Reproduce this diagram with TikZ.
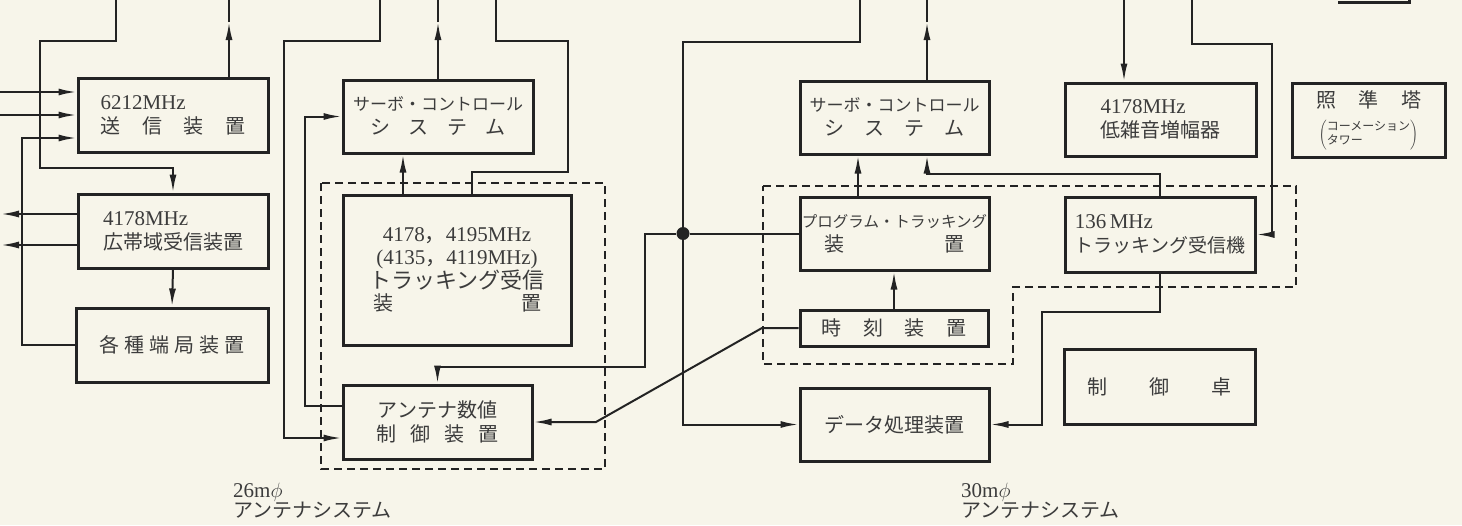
\documentclass[tikz,border=0pt]{standalone}
\usepackage{fontspec}
\setmainfont{Liberation Serif}
\newfontfamily\jp{Noto Sans CJK JP}
\usetikzlibrary{arrows.meta}
\definecolor{bgc}{RGB}{247,245,234}
\definecolor{linec}{RGB}{35,35,35}
\definecolor{txtc}{RGB}{60,60,60}
\newcommand\fs[1]{\fontsize{#1}{#1}\selectfont}
\newcommand\spr[2]{\makebox[#1][s]{#2}}
\newcommand\lat[1]{{\rmfamily\fontsize{21}{24}\selectfont #1}}
\begin{document}
\begin{tikzpicture}[x=1pt,y=-1pt,
  box/.style={draw=linec, line width=3pt, inner sep=0pt, text=txtc, align=center, font=\jp\fontsize{20}{24}\selectfont},
  conn/.style={draw=linec, line width=2pt},
  arr/.style={conn, -{Latex[length=18pt,width=7pt]}},
  dashbox/.style={draw=linec, line width=1.7pt, dash pattern=on 8pt off 5pt},
  lbl/.style={text=txtc, align=left, inner sep=0pt, anchor=west},
  junction/.style={circle, fill=linec, inner sep=0pt, minimum size=13pt}]
\fill[bgc] (0,0) rectangle (1462,525);
\useasboundingbox (0,0) rectangle (1462,525);

% free ends
\coordinate (t1) at (116,0);
\coordinate (t2) at (229,0);  \coordinate (a2) at (229,22);
\coordinate (t3) at (380,0);
\coordinate (t4) at (438,0);  \coordinate (a4) at (438,22);
\coordinate (t5) at (496,0);
\coordinate (t6) at (860,0);
\coordinate (t7) at (927,0);  \coordinate (a7) at (927,22);
\coordinate (t8) at (1124,0);
\coordinate (t9) at (1192,0);
\coordinate (l1) at (0,92);
\coordinate (l2) at (0,115);
\coordinate (l3) at (1,214);
\coordinate (l4) at (1,245);

% dashed groups
\draw[dashbox] (321,183) rectangle (605,469);
\draw[dashbox] (763,186) -- (1296,186) -- (1296,287) -- (1013,287) -- (1013,364) -- (763,364) -- cycle;

% boxes, left column
\node[box, minimum width=190pt, minimum height=74pt, align=left] (tx) at (173,115)
  {\lat{6212MHz}\\\spr{145pt}{送\hfill 信\hfill 装\hfill 置}};
\node[box, minimum width=190pt, minimum height=74pt, align=left] (rx) at (173,231)
  {\lat{4178MHz}\\広帯域受信装置};
\node[box, minimum width=192pt, minimum height=74pt] (term) at (172,345)
  {\spr{145pt}{各\hfill 種\hfill 端\hfill 局\hfill 装\hfill 置}};

% 26m antenna
\node[box, minimum width=190pt, minimum height=73pt] (servo1) at (438,116.5)
  {{\fs{17}サーボ・コントロール}\\\spr{135pt}{シ\hfill ス\hfill テ\hfill ム}};
\node[box, minimum width=228pt, minimum height=150pt, font=\jp\fontsize{20}{22.5}\selectfont] (trk) at (457,270)
  {\lat{4178{\jp ，}4195MHz}\\\lat{(4135{\jp ，}4119MHz)}\\{\fs{22}トラッキング受信}\\\spr{168pt}{装\hfill 置}};
\node[box, minimum width=189pt, minimum height=74pt] (ant) at (437.5,422)
  {アンテナ数値\\\spr{122pt}{制\hfill 御\hfill 装\hfill 置}};

% 30m antenna
\node[box, minimum width=189pt, minimum height=73pt] (servo2) at (894.5,117.5)
  {{\fs{17}サーボ・コントロール}\\\spr{140pt}{シ\hfill ス\hfill テ\hfill ム}};
\node[box, minimum width=189pt, minimum height=73pt] (prog) at (894.5,233.5)
  {{\fs{15.5}プログラム・トラッキング}\\\spr{140pt}{装\hfill 置}};
\node[box, minimum width=188pt, minimum height=36pt] (clock) at (894,328)
  {\spr{145pt}{時\hfill 刻\hfill 装\hfill 置}};
\node[box, minimum width=189pt, minimum height=73pt] (data) at (894.5,424.5)
  {データ処理装置};
\node[box, minimum width=191pt, minimum height=73pt, align=left] (lna) at (1160.5,119.5)
  {\lat{4178MHz}\\低雑音増幅器};
\node[box, minimum width=190pt, minimum height=75pt, align=left] (trkrx) at (1160,234.5)
  {\lat{136\,MHz}\\{\fs{19}トラッキング受信機}};
\node[box, minimum width=153pt, minimum height=74pt] (col) at (1368.5,120)
  {\spr{105pt}{照\hfill 準\hfill 塔}\\[9pt]
   $\left(\vcenter{\hbox{\jp\fontsize{12}{13}\selectfont\begin{tabular}{@{}l@{}}コーメーション\\タワー\end{tabular}}}\right)$};
\node[box, minimum width=191pt, minimum height=75pt] (ctl) at (1159.5,386.5)
  {\spr{144pt}{制\hfill 御\hfill 卓}};

\node[junction] (dot) at (683,233.5) {};

% fragment at top right
\draw[linec, line width=3pt] (1338,2) -- (1409,2) -- (1409,-3);

% connectors, left
\draw[arr] (t1) |- (40,41) |- (173,168) -- (rx.north);
\draw[arr] (tx.north -| a2) -- (a2);
\draw[conn] (a2) -- (t2);
\draw[arr] (l1) -- ([yshift=23pt]tx.west);
\draw[arr] (l2) -- (tx.west);
\draw[arr] (term.west) -| (22,138) -- ([yshift=-23pt]tx.west);
\draw[arr] ([yshift=17pt]rx.west) -- (l3);
\draw[arr] ([yshift=-14pt]rx.west) -- (l4);
\draw[arr] (rx.south) -- (term.north);

% connectors, 26m
\draw[arr] (t3) |- (284,41) |- ([yshift=-16pt]ant.west);
\draw[arr] ([yshift=16pt]ant.west) -| (305,116.5) -- (servo1.west);
\draw[arr] (servo1.north) -- (a4);
\draw[conn] (a4) -- (t4);
\draw[conn] (t5) |- (568,41) |- (472,172) -- ([xshift=15pt]trk.north);
\draw[arr] ([xshift=-54pt]trk.north) -- ([xshift=-54pt]trk.north |- servo1.south);

% connectors, 30m
\draw[conn] (dot) -- (prog.west);
\draw[conn] (dot) |- (860,42) -- (t6);
\draw[arr] (dot) |- (data.west);
\draw[arr] (dot) -- (645,233.5) |- (437.5,367) -- (ant.north);
\draw[arr] (clock.west) -- (762,328) -- (596,422) -- (ant.east);
\draw[arr] (servo2.north -| a7) -- (a7);
\draw[conn] (a7) -- (t7);
\draw[arr] ([xshift=-36.5pt]prog.north) -- ([xshift=-36.5pt]prog.north |- servo2.south);
\draw[arr] (trkrx.north) |- (927,174) -- (servo2.south -| a7);
\draw[arr] (clock.north) -- (clock.north |- prog.south);
\draw[arr] (trkrx.south) |- (1042,312) |- (data.east);
\draw[arr] (t8) -- (t8 |- lna.north);
\draw[arr] (t9) |- (1272,44) |- (trkrx.east);

% labels
\node[lbl] (lab26) at (233,501) {{\fontsize{21}{23}\selectfont 26m$\phi$}\\{\jp\fontsize{20}{22}\selectfont アンテナシステム}};
\node[lbl] (lab30) at (961,501) {{\fontsize{21}{23}\selectfont 30m$\phi$}\\{\jp\fontsize{20}{22}\selectfont アンテナシステム}};
\end{tikzpicture}
\end{document}
